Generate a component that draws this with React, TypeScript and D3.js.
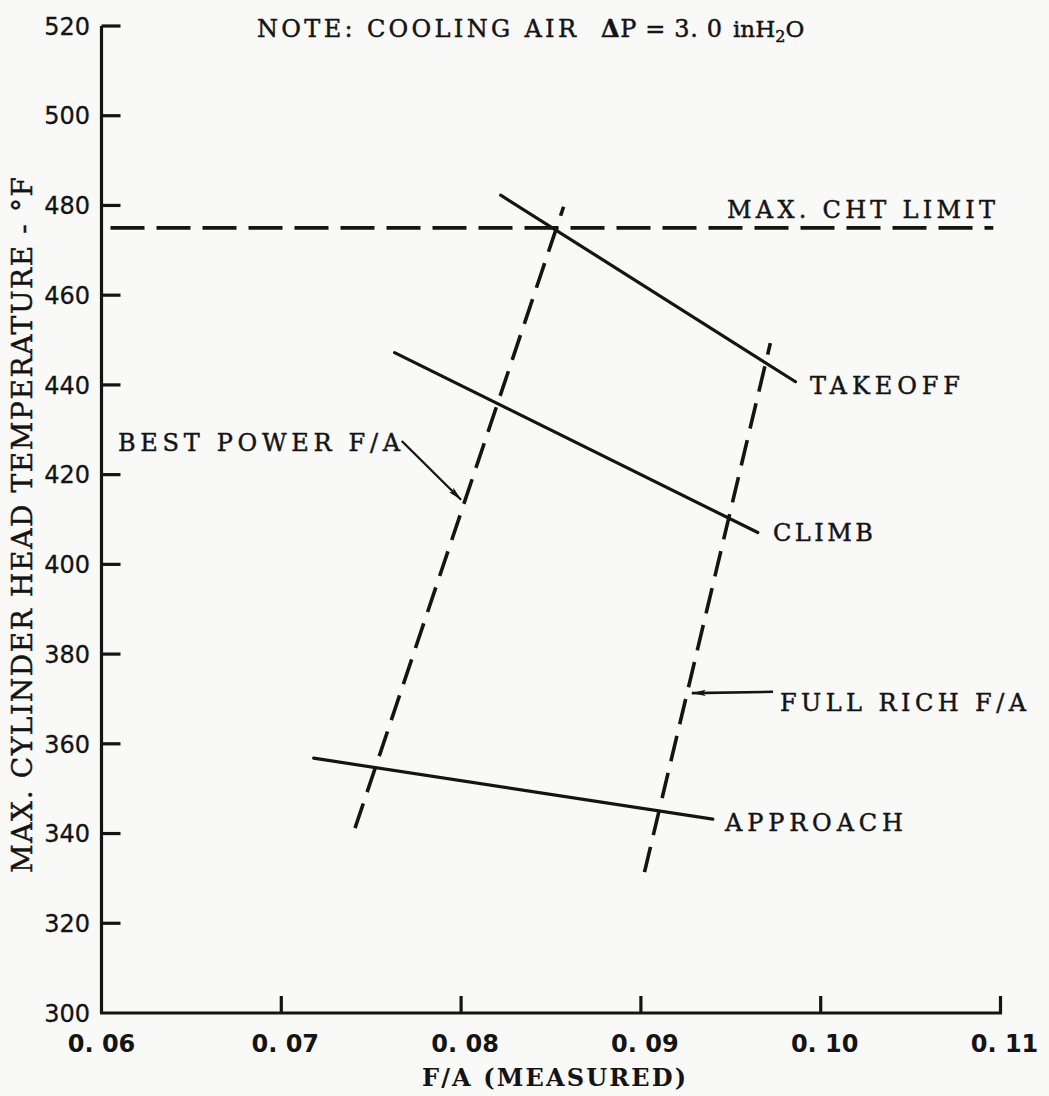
import React from "react";
import * as d3 from "d3";

// ---- data ----
const xTicks = [0.06, 0.07, 0.08, 0.09, 0.1, 0.11];
const xTickLabels = ["0. 06", "0. 07", "0. 08", "0. 09", "0. 10", "0. 11"];
const yTicks = [300, 320, 340, 360, 380, 400, 420, 440, 460, 480, 500, 520];

const takeoffFA = [0.0822, 0.0986];
const takeoffCHT = [482.3, 440.7];
const climbFA = [0.0763, 0.0965];
const climbCHT = [447.2, 407.1];
const approachFA = [0.0718, 0.094];
const approachCHT = [356.8, 343.2];
const bestPowerFA = [0.0741, 0.0857];
const bestPowerCHT = [341.2, 479.7];
const fullRichFA = [0.0902, 0.0972];
const fullRichCHT = [331.4, 449.3];
const chtLimit = 475;
const chtLimitFA = [0.0605, 0.1096];

const bestPowerArrowFA = [0.0767, 0.08];
const bestPowerArrowCHT = [427.5, 414.4];
const fullRichArrowFA = [0.09735, 0.09283];
const fullRichArrowCHT = [371.6, 371.3];

const W = 1049;
const H = 1096;
const INK = "#141414";
const SERIF = "'DejaVu Serif', 'Liberation Serif', serif";
const SANS = "'DejaVu Sans', 'Liberation Sans', sans-serif";

const zip = (a: number[], b: number[]): [number, number][] => a.map((v, i) => [v, b[i]]);

export default function App() {
  const x = d3.scaleLinear().domain([0.06, 0.11]).range([101.5, 1000.5]);
  const y = d3.scaleLinear().domain([300, 520]).range([1013, 26]);
  const line = d3
    .line<[number, number]>()
    .x((d) => x(d[0]))
    .y((d) => y(d[1]));

  const label = (
    t: string,
    x0: number,
    x1: number,
    cy: number,
    fs: number,
    extra: any = {}
  ) => (
    <text
      x={x0}
      y={cy + 0.365 * fs}
      fontSize={fs}
      fontFamily={SERIF}
      fill={INK}
      stroke={INK}
      strokeWidth={0.45}
      textLength={x1 - x0}
      lengthAdjust="spacing"
      {...extra}
    >
      {t}
    </text>
  );

  const solid = { fill: "none", stroke: INK, strokeWidth: 3.2, strokeLinecap: "round" as const };
  const dashed = { ...solid, strokeWidth: 3.6, strokeLinecap: "butt" as const, strokeDasharray: "26 12" };

  return (
    <svg
      width={W}
      height={H}
      viewBox={`0 0 ${W} ${H}`}
      style={{ position: "absolute", left: 0, top: 0, display: "block" }}
    >
      <defs>
        <marker
          id="arr"
          viewBox="0 0 14 8"
          refX={14}
          refY={4}
          markerWidth={14}
          markerHeight={8}
          markerUnits="userSpaceOnUse"
          orient="auto"
        >
          <path d="M0,0.8 L14,4 L0,7.2 L3,4 Z" fill={INK} />
        </marker>
      </defs>
      <rect x={0} y={0} width={W} height={H} fill="#f9f9f8" />

      {/* axes */}
      <line x1={x(0.06)} x2={x(0.06)} y1={y(520)} y2={y(300)} stroke={INK} strokeWidth={3.2} />
      <line x1={x(0.06) - 1.5} x2={x(0.11) + 1.5} y1={y(300)} y2={y(300)} stroke={INK} strokeWidth={3.2} />
      {yTicks
        .filter((v) => v !== 300)
        .map((v) => (
          <line key={"yt" + v} x1={x(0.06)} x2={x(0.06) + 19} y1={y(v)} y2={y(v)} stroke={INK} strokeWidth={3.2} />
        ))}
      {xTicks
        .filter((v) => v !== 0.06)
        .map((v) => (
          <line key={"xt" + v} x1={x(v)} x2={x(v)} y1={y(300)} y2={y(300) - 17} stroke={INK} strokeWidth={3.2} />
        ))}
      {yTicks.map((v) => (
        <text
          key={"yl" + v}
          x={90}
          y={y(v) + 0.365 * 24}
          textAnchor="end"
          fontSize={24}
          fontFamily={SANS}
          fill={INK}
          stroke={INK}
          strokeWidth={0.3}
        >
          {v}
        </text>
      ))}
      {xTicks.map((v, i) => (
        <text
          key={"xl" + v}
          x={x(v) + (i === 0 ? 0 : 4)}
          y={1043 + 0.365 * 24}
          textAnchor="middle"
          fontSize={24}
          fontWeight="bold"
          fontFamily={SANS}
          fill={INK}
        >
          {xTickLabels[i]}
        </text>
      ))}

      {/* axis titles */}
      <text
        transform={`translate(${22 + 0.365 * 28},525) rotate(-90)`}
        textAnchor="middle"
        fontSize={28}
        fontFamily={SERIF}
        fill={INK}
        stroke={INK}
        strokeWidth={0.45}
        textLength={696}
        lengthAdjust="spacing"
      >
        MAX. CYLINDER HEAD TEMPERATURE - °F
      </text>
      {label("F/A (MEASURED)", 422, 686, 1077, 24, { fontWeight: "bold", strokeWidth: 0 })}

      {/* note */}
      {label("NOTE: COOLING AIR", 257, 576, 28, 24)}
      <text
        x={601}
        y={28 + 0.365 * 24}
        fontSize={24}
        fontFamily={SERIF}
        fill={INK}
        stroke={INK}
        strokeWidth={0.45}
        textLength={121}
        lengthAdjust="spacing"
      >
        <tspan fontWeight="bold">Δ</tspan>P = 3. 0
      </text>
      <text x={733} y={28 + 0.365 * 24} fontSize={23} fontFamily={SERIF} fill={INK} stroke={INK} strokeWidth={0.45}>
        inH
        <tspan fontSize={16} dy={5}>
          2
        </tspan>
        <tspan dy={-5}>O</tspan>
      </text>

      {/* max CHT limit */}
      <path d={line(zip(chtLimitFA, [chtLimit, chtLimit]))!} {...solid} strokeLinecap="butt" strokeWidth={3.8} strokeDasharray="34 12" />
      {label("MAX. CHT LIMIT", 727, 995, 209, 24)}

      {/* operating lines */}
      <path d={line(zip(takeoffFA, takeoffCHT))!} {...solid} />
      <path d={line(zip(climbFA, climbCHT))!} {...solid} />
      <path d={line(zip(approachFA, approachCHT))!} {...solid} />
      {label("TAKEOFF", 810, 960, 385, 24)}
      {label("CLIMB", 773, 873, 532, 24)}
      {label("APPROACH", 725, 903, 822, 24)}

      {/* F/A lines */}
      <path d={line(zip(bestPowerFA, bestPowerCHT))!} {...dashed} />
      <path d={line(zip(fullRichFA, fullRichCHT))!} {...dashed} />

      {/* annotations */}
      {label("BEST POWER F/A", 118, 400, 442, 24)}
      <path d={line(zip(bestPowerArrowFA, bestPowerArrowCHT))!} fill="none" stroke={INK} strokeWidth={2.3} markerEnd="url(#arr)" />
      {label("FULL RICH F/A", 780, 1026, 702, 24)}
      <path d={line(zip(fullRichArrowFA, fullRichArrowCHT))!} fill="none" stroke={INK} strokeWidth={2.6} markerEnd="url(#arr)" />
    </svg>
  );
}
